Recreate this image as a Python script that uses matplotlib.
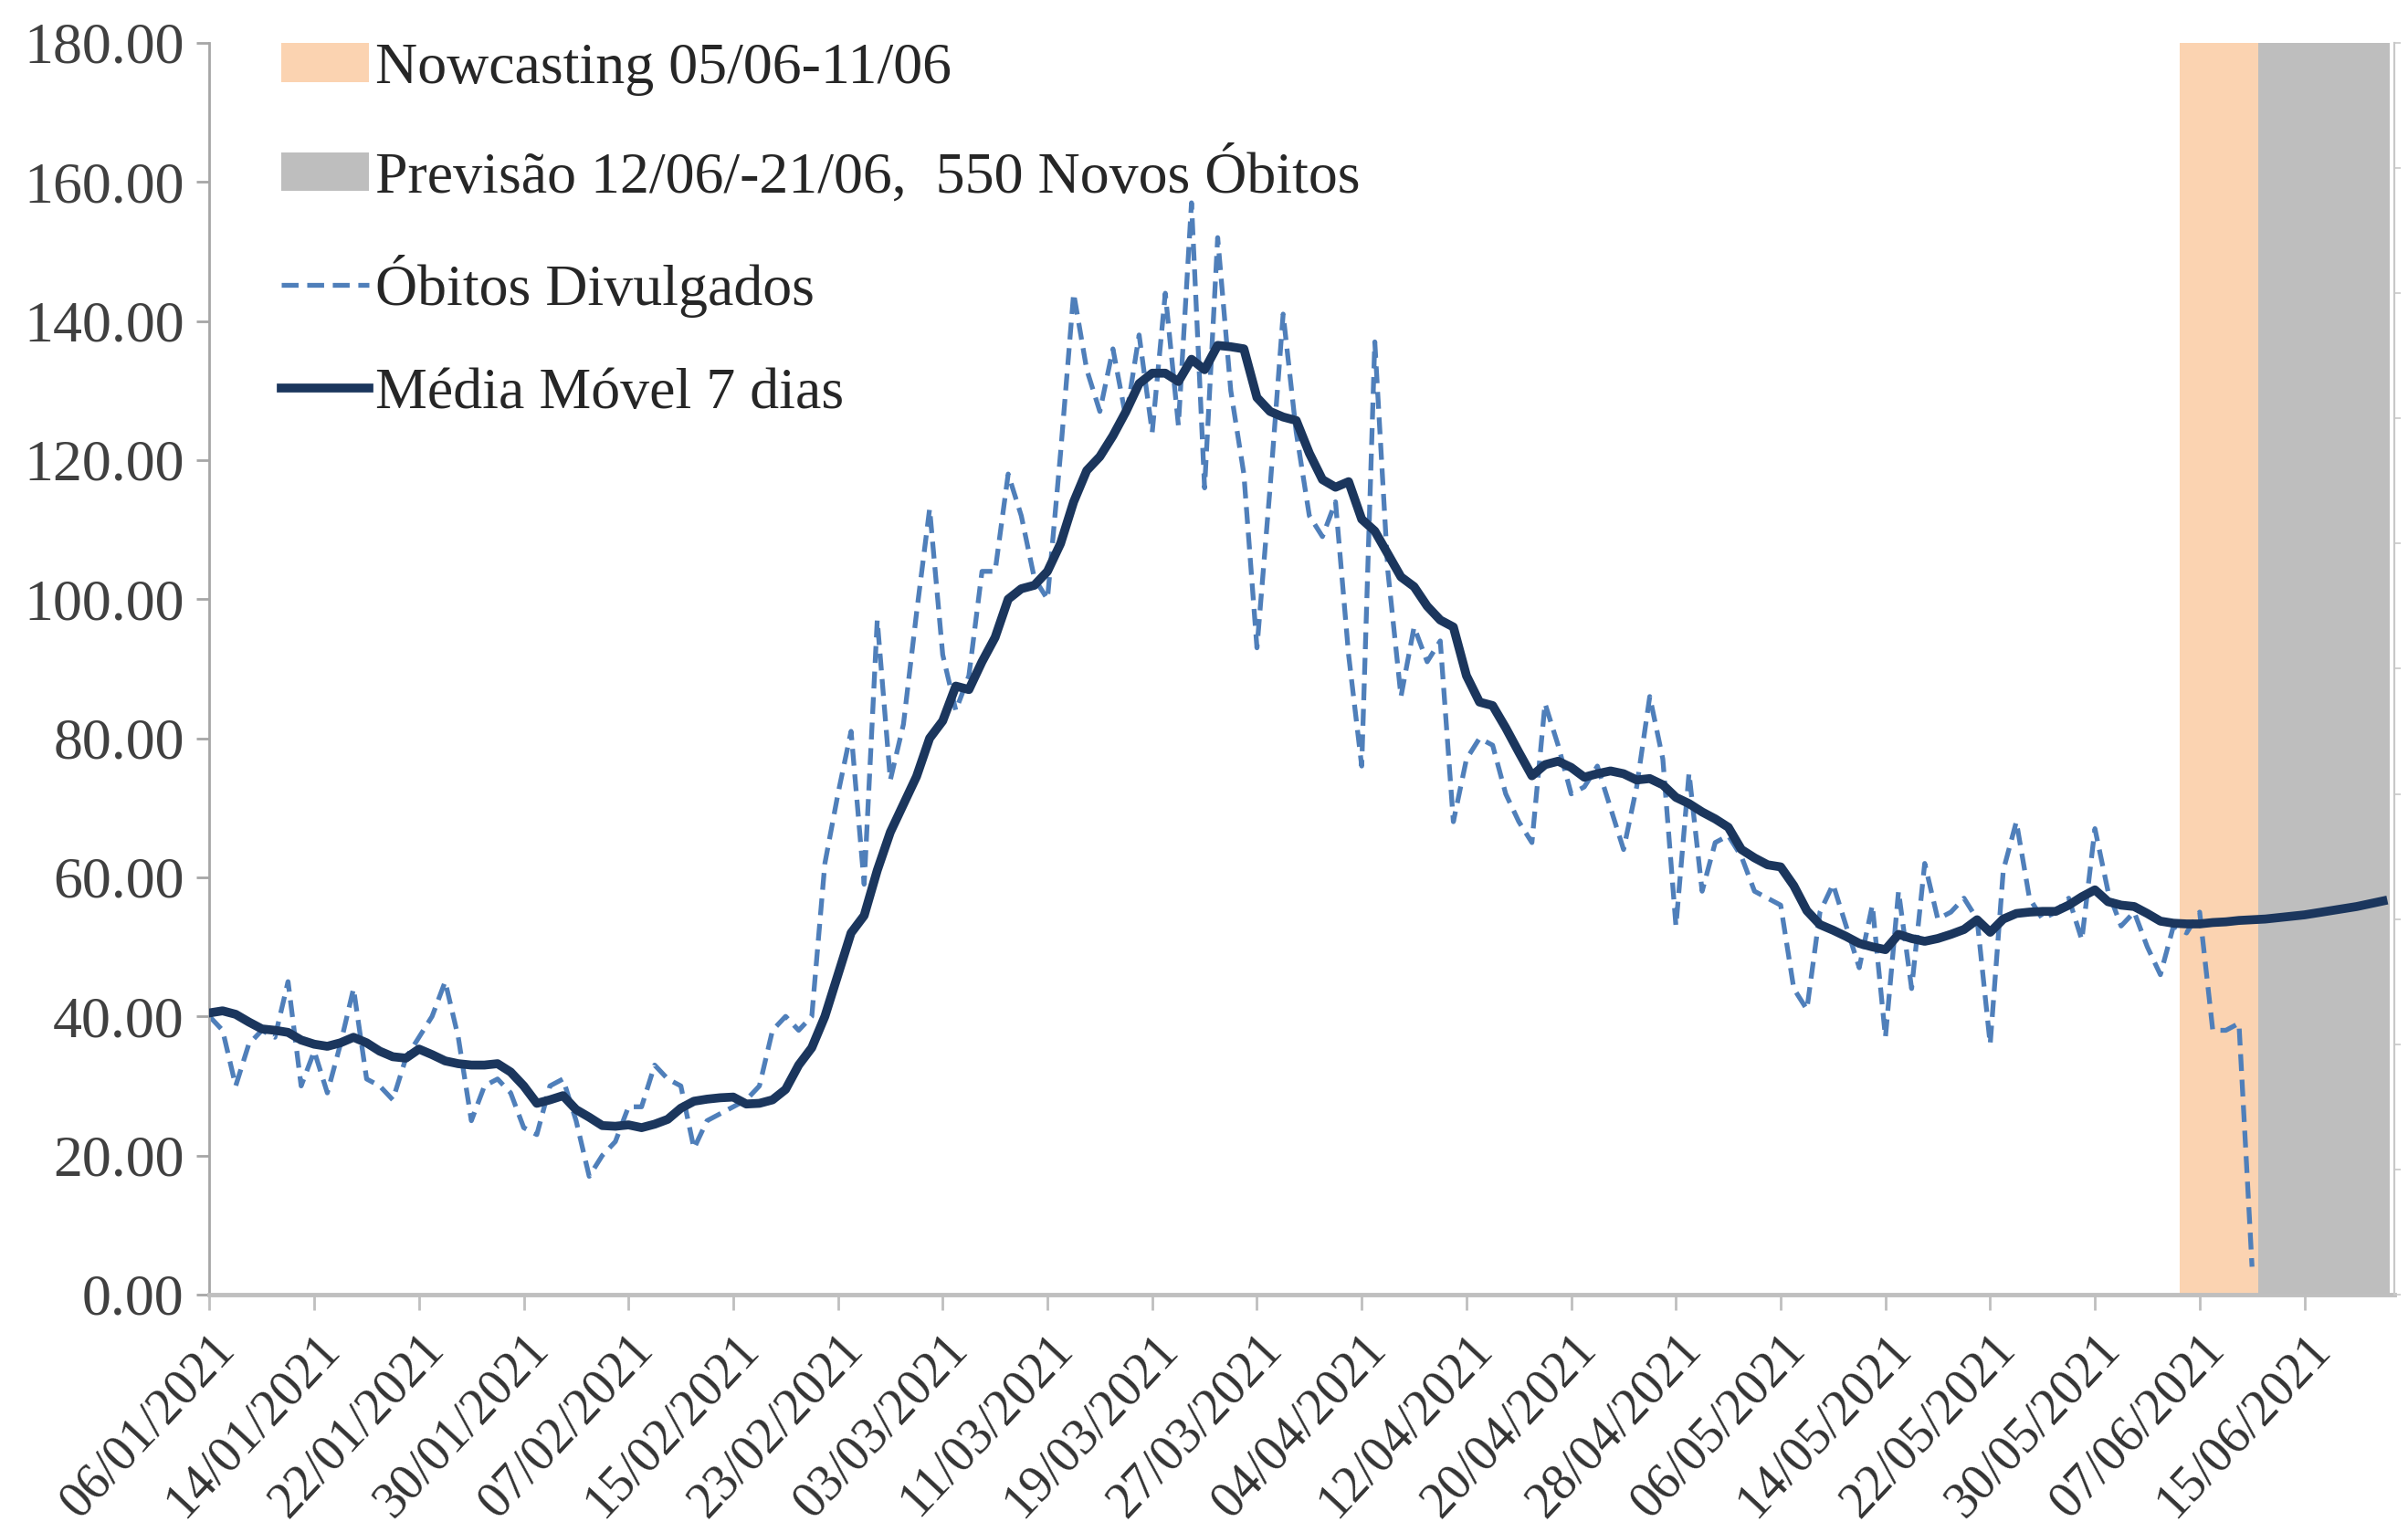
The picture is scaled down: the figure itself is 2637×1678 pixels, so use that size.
import matplotlib
matplotlib.use("Agg")
import matplotlib.pyplot as plt
from matplotlib.patches import Patch
from matplotlib.lines import Line2D
import pandas as pd
import numpy as np

# daily series starting 06/01/2021
start_date = "2021-01-06"

obitos_divulgados = [
    40, 38, 30, 36, 38, 37, 45, 30, 35, 29,
    36, 44, 31, 30, 28, 34, 37, 40, 45, 37,
    25, 30, 31, 29, 24, 23, 30, 31, 25, 17,
    20, 22, 27, 27, 33, 31, 30, 21, 25, 26,
    27, 28, 30, 38, 40, 38, 40, 62, 72, 81,
    59, 97, 74, 82, 98, 113, 92, 84, 89, 104,
    104, 118, 112, 103, 100, 121, 144, 133, 127, 136,
    126, 138, 124, 144, 125, 157, 116, 152, 130, 118,
    93, 116, 141, 124, 112, 109, 114, 92, 76, 137,
    104, 86, 96, 91, 94, 68, 77, 80, 79, 72,
    68, 65, 85, 79, 72, 73, 76, 70, 64, 73,
    86, 77, 53, 75, 58, 65, 66, 63, 58, 57,
    56, 44, 41, 55, 59, 53, 47, 56, 37, 58,
    44, 62, 54, 55, 57, 54, 36, 61, 68, 57,
    54, 55, 57, 51, 67, 58, 53, 55, 50, 46,
    53, 52, 55, 38, 38, 39, 4,
]

media_movel_7d = [
    40.5, 40.8, 40.3, 39.2, 38.2, 38.0, 37.7, 36.6, 36.0, 35.7,
    36.2, 37.0, 36.2, 35.0, 34.2, 34.0, 35.3, 34.5, 33.6, 33.2,
    33.0, 33.0, 33.2, 32.0, 30.0, 27.5, 28.0, 28.6, 26.6, 25.5,
    24.3, 24.2, 24.4, 24.0, 24.5, 25.2, 26.8, 27.8, 28.1, 28.3,
    28.4, 27.4, 27.5, 28.0, 29.5, 33.0, 35.5, 40.0, 46.0, 52.0,
    54.5, 61.0, 66.5, 70.5, 74.5, 80.0, 82.5, 87.5, 87.0, 91.0,
    94.5, 100.0, 101.5, 102.0, 104.0, 108.0, 114.0, 118.5, 120.5, 123.5,
    127.0, 131.0, 132.5, 132.5, 131.3, 134.5, 133.0, 136.5, 136.3, 136.0,
    129.0, 127.0, 126.2, 125.7, 121.0, 117.2, 116.1, 116.9, 111.5, 109.8,
    106.5, 103.2, 101.8, 99.0, 97.0, 96.0, 89.0, 85.2, 84.7, 81.5,
    78.0, 74.6, 76.2, 76.7, 75.8, 74.4, 74.9, 75.3, 74.9, 74.0,
    74.2, 73.3, 71.5, 70.6, 69.4, 68.4, 67.2, 64.0, 62.8, 61.8,
    61.5, 58.8, 55.2, 53.2, 52.4, 51.5, 50.5, 50.0, 49.6, 51.8,
    51.2, 50.8, 51.2, 51.8, 52.5, 53.9, 52.1, 54.0, 54.8, 55.0,
    55.1, 55.1, 56.0, 57.2, 58.2, 56.5, 56.0, 55.8, 54.8, 53.7,
    53.4, 53.3, 53.3, 53.5, 53.6, 53.8, 53.9, 54.0, 54.2, 54.4,
    54.6, 54.9, 55.2, 55.5, 55.8, 56.2, 56.6,
]

nowcast_period = ("2021-06-05", "2021-06-11")
forecast_period = ("2021-06-12", "2021-06-21")
y_ticks = [0, 20, 40, 60, 80, 100, 120, 140, 160, 180]

labels = ["Nowcasting 05/06-11/06",
          "Previsão 12/06/-21/06,  550 Novos Óbitos",
          "Óbitos Divulgados",
          "Média Móvel 7 dias"]

c_nowcast = "#FBD3B1"
c_forecast = "#BEBEBE"
c_daily = "#4F7FBA"
c_mm = "#1B365D"

plt.rcParams['font.family'] = ['Liberation Serif', 'DejaVu Serif']

dates_daily = pd.date_range(start_date, periods=len(obitos_divulgados), freq="D")
dates_mm = pd.date_range(start_date, periods=len(media_movel_7d), freq="D")
half = pd.Timedelta(hours=12)

fig = plt.figure(figsize=(26.37, 16.78), dpi=100)
ax = fig.add_axes([0.087, 0.155, 0.9075, 0.817])

ax.axvspan(pd.Timestamp(nowcast_period[0]) + half, pd.Timestamp(nowcast_period[1]) + half,
           color=c_nowcast, lw=0, zorder=0)
ax.axvspan(pd.Timestamp(forecast_period[0]) - half, pd.Timestamp(forecast_period[1]) + half,
           color=c_forecast, lw=0, zorder=0)

ax.plot(dates_daily, obitos_divulgados, color=c_daily, lw=3.8, dashes=(3.5, 1.8), zorder=2)
ax.plot(dates_mm, media_movel_7d, color=c_mm, lw=7, zorder=3, solid_joinstyle='round')

t0 = pd.Timestamp(start_date)
ax.set_xlim(t0, t0 + pd.Timedelta(days=166.9))
ax.set_ylim(0, 180)

ax.set_yticks(y_ticks)
ax.set_yticklabels([f"{v:.2f}" for v in y_ticks])
xt = pd.date_range(start_date, forecast_period[1], freq="8D")
ax.set_xticks(xt)
ax.set_xticklabels([d.strftime("%d/%m/%Y") for d in xt], rotation=47,
                   ha='right', va='top', rotation_mode='anchor')

ax.tick_params(axis='y', labelsize=46, colors='#A6A6A6', labelcolor='#404040',
               length=10, width=2, pad=10)
ax.tick_params(axis='x', labelsize=40, colors='#BFBFBF', labelcolor='#333333',
               length=12, width=2, pad=12)

ax.spines['top'].set_visible(False)
ax.spines['left'].set_color('#A6A6A6')
ax.spines['left'].set_linewidth(2)
ax.spines['bottom'].set_color('#BFBFBF')
ax.spines['bottom'].set_linewidth(3.5)
ax.spines['right'].set_color('#C8C8C8')
ax.spines['right'].set_linewidth(1.5)

# secondary axis (only its line and small ticks are visible)
ax2 = ax.twinx()
ax2.set_ylim(0, 1)
ax2.set_yticks(np.arange(0, 1.01, 0.1))
ax2.tick_params(axis='y', length=5, width=1.2, colors='#C8C8C8', labelright=False)
for s in ['top', 'left', 'bottom']:
    ax2.spines[s].set_visible(False)
ax2.spines['right'].set_color('#C8C8C8')
ax2.spines['right'].set_linewidth(1.5)

handles = [Patch(facecolor=c_nowcast, edgecolor='none'),
           Patch(facecolor=c_forecast, edgecolor='none'),
           Line2D([], [], color=c_daily, lw=3.8, dashes=(3.5, 1.8)),
           Line2D([], [], color=c_mm, lw=7)]
leg = ax.legend(handles, labels, loc='upper left', bbox_to_anchor=(0.033, 1.0),
                frameon=False, fontsize=46, handlelength=1.5, handleheight=0.65,
                handletextpad=0.1, labelspacing=0.86, borderpad=0, borderaxespad=0)
for t in leg.get_texts():
    t.set_color('#262626')

fig.savefig("out.png", dpi=100, facecolor='white')
